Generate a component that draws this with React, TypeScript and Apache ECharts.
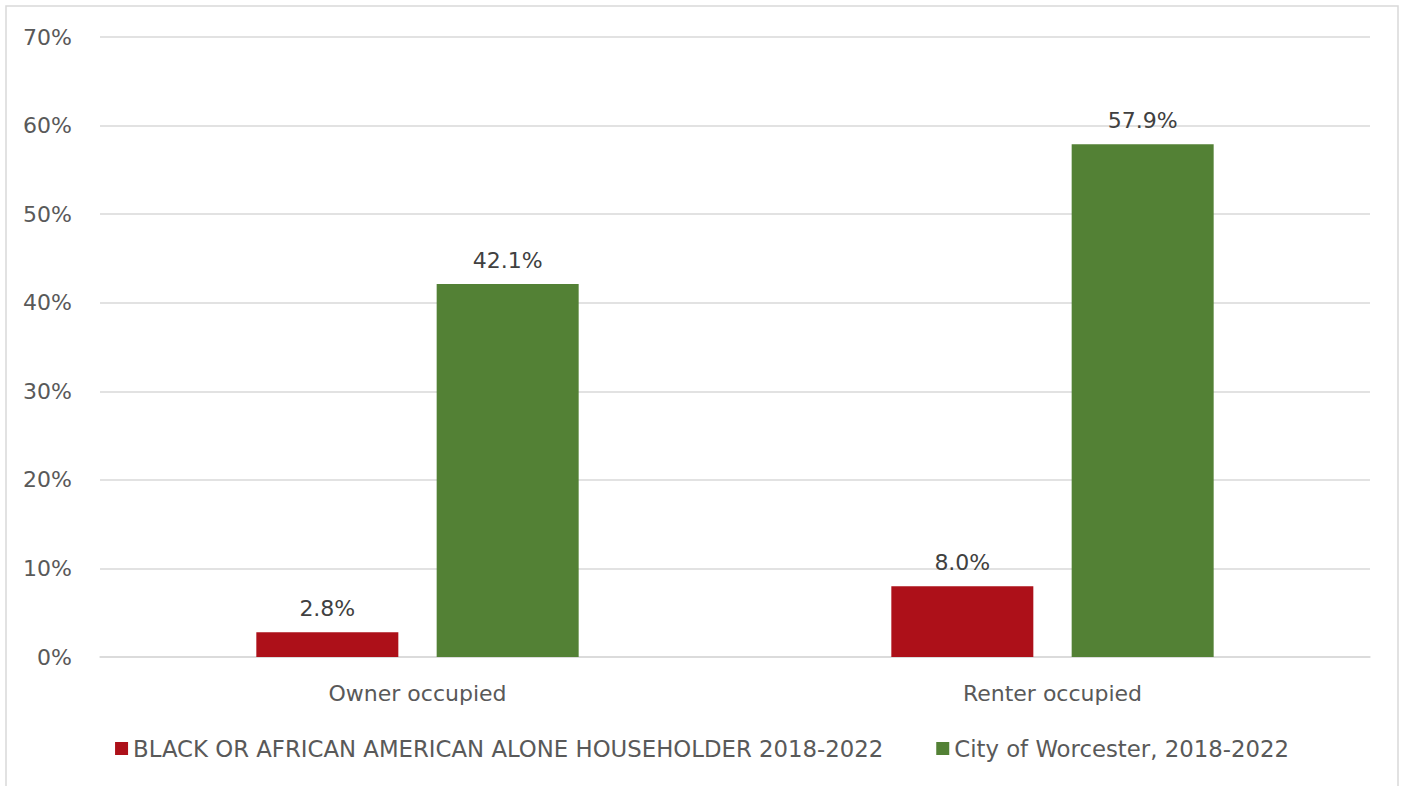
import React, { useEffect, useRef } from "react";
import * as echarts from "echarts";

const categories = ["Owner occupied", "Renter occupied"];
const seriesNames = [
  "BLACK OR AFRICAN AMERICAN ALONE HOUSEHOLDER 2018-2022",
  "City of Worcester, 2018-2022",
];
const blackValues = [2.8, 8.0];
const worcesterValues = [42.1, 57.9];
const colors = ["#AD1019", "#538135"];

export default function App() {
  const ref = useRef<HTMLDivElement>(null);
  useEffect(() => {
    document.body.style.margin = "0";
    const chart = echarts.init(ref.current!, null, { renderer: "svg" });
    const font = "'DejaVu Sans', sans-serif";
    const fs = 22;
    const labelStyle = {
      show: true,
      position: "top" as const,
      distance: 13,
      color: "#404040",
      fontSize: fs,
      fontFamily: font,
      formatter: (p: any) => p.value.toFixed(1) + "%",
    };
    chart.setOption({
      animation: false,
      textStyle: { fontFamily: font },
      graphic: [
        {
          type: "rect",
          shape: { x: 6, y: 6, width: 1392, height: 820 },
          style: { fill: "none", stroke: "#d9d9d9", lineWidth: 1.5 },
          silent: true,
        },
      ],
      grid: { left: 100, right: 34, top: 37, bottom: 129, containLabel: false },
      legend: {
        data: seriesNames,
        bottom: 21,
        left: "center",
        itemWidth: 13,
        itemHeight: 13,
        itemGap: 53,
        icon: "rect",
        textStyle: { color: "#595959", fontSize: 22.8, fontFamily: font },
      },
      xAxis: {
        type: "category",
        data: categories,
        axisLine: { lineStyle: { color: "#d9d9d9", width: 1.5 } },
        axisTick: { show: false },
        axisLabel: { color: "#595959", fontSize: fs, margin: 25, fontFamily: font },
      },
      yAxis: {
        type: "value",
        min: 0,
        max: 70,
        interval: 10,
        axisLine: { show: false },
        axisTick: { show: false },
        axisLabel: {
          color: "#595959",
          fontSize: fs,
          margin: 28,
          fontFamily: font,
          formatter: (v: number) => v + "%",
        },
        splitLine: { lineStyle: { color: "#d9d9d9", width: 1.5 } },
      },
      series: [
        {
          name: seriesNames[0],
          type: "bar",
          data: blackValues,
          itemStyle: { color: colors[0] },
          barWidth: 142,
          barGap: "27%",
          label: labelStyle,
        },
        {
          name: seriesNames[1],
          type: "bar",
          data: worcesterValues,
          itemStyle: { color: colors[1] },
          barWidth: 142,
          barGap: "27%",
          label: labelStyle,
        },
      ],
    });
    return () => chart.dispose();
  }, []);
  return <div ref={ref} style={{ width: 1404, height: 786 }} />;
}
